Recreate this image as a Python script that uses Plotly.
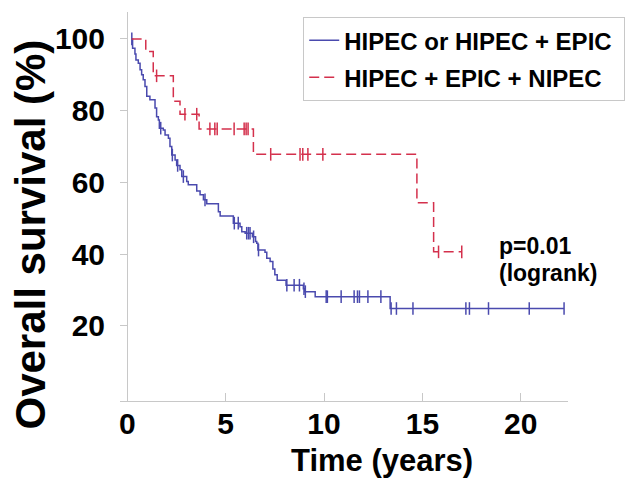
import plotly.graph_objects as go
import bisect

# ---- data ----
blue_name = "HIPEC or HIPEC + EPIC\u00a0"
blue_times = [0.22, 0.27, 0.39, 0.44, 0.56, 0.65, 0.73, 0.81, 0.90, 0.99, 1.15, 1.41, 1.49, 1.58,
              1.63, 1.83, 1.92, 2.09, 2.17, 2.26, 2.43, 2.51, 2.68, 2.77, 3.02, 3.10, 3.53, 3.70,
              3.87, 4.04, 4.63, 4.72, 5.39, 5.73, 5.82, 5.99, 6.36, 6.52, 6.58, 6.64, 7.00, 7.09,
              7.26, 7.40, 7.50, 7.62, 8.07, 8.95, 9.02, 9.55, 13.36]
blue_surv = [100, 97.4, 95.8, 94.1, 93.2, 91.4, 90.0, 88.6, 86.7, 84.0, 83.0, 80.7, 78.3, 77.4,
             75.1, 74.6, 73.2, 72.3, 70.0, 67.6, 66.2, 64.7, 63.5, 61.6, 60.2, 59.3, 57.6, 56.5,
             55.1, 54.0, 51.8, 50.6, 48.6, 47.6, 46.2, 45.8, 44.8, 43.5, 43.0, 41.1, 40.5, 38.8,
             37.9, 35.8, 34.2, 32.7, 31.3, 30.3, 29.5, 28.1, 24.8]
blue_end = 22.2
blue_censor = [0.23, 1.70, 2.29, 2.56, 2.85, 3.95, 5.44, 5.64, 6.07, 6.16, 6.24, 6.42, 6.67,
               8.11, 8.48, 8.75, 8.98, 9.05, 10.11, 10.17, 10.87, 11.53, 11.70, 11.80, 12.23,
               12.89, 13.41, 13.68, 14.52, 17.21, 17.39, 18.36, 20.43, 22.2]

red_name = "HIPEC + EPIC + NIPEC"
red_times = [0.22, 0.94, 1.32, 2.34, 2.68, 3.65, 6.41, 14.72, 15.57]
red_surv = [100, 96.5, 89.7, 82.6, 79.0, 74.9, 67.8, 54.3, 40.6]
red_end = 17.0
red_censor = [1.49, 2.93, 3.53, 4.20, 4.45, 4.57, 5.43, 5.94, 6.04, 6.14, 7.29, 8.78,
              8.92, 9.18, 9.94, 15.82, 17.0]

x_ticks = [0, 5, 10, 15, 20]
y_ticks = [20, 40, 60, 80, 100]
p_text = ["p=0.01", "(logrank)"]

BLUE = "#4a4aae"
RED = "#d4304c"
GRID = "#c8c8c8"
FONT = "Liberation Sans, Arial, sans-serif"


def level_at(times, surv, t):
    i = bisect.bisect_right(times, t) - 1
    return surv[max(i, 0)]


fig = go.Figure()

for name, times, surv, end, cens, col, dash, grp in [
    (blue_name, blue_times, blue_surv, blue_end, blue_censor, BLUE, "solid", "b"),
    (red_name, red_times, red_surv, red_end, red_censor, RED, "10px,5px", "r"),
]:
    fig.add_trace(go.Scatter(
        x=times + [end], y=surv + [surv[-1]], mode="lines", name=name,
        line=dict(color=col, width=1.5, shape="hv", dash=dash),
        legendgroup=grp, showlegend=True))
    fig.add_trace(go.Scatter(
        x=cens, y=[level_at(times, surv, t) for t in cens], mode="markers",
        marker=dict(symbol="line-ns", size=9, line=dict(color=col, width=1.5)),
        legendgroup=grp, showlegend=False))

fig.update_layout(
    width=625, height=473,
    margin=dict(l=112, r=65, t=4, b=80),
    plot_bgcolor="white", paper_bgcolor="white",
    font=dict(family=FONT, color="black"),
    xaxis=dict(range=[-0.37, 22.4], tickvals=x_ticks, ticks="inside", ticklen=8,
               tickcolor=GRID, showline=True, linecolor=GRID, linewidth=1,
               zeroline=True, zerolinecolor=GRID, zerolinewidth=1, showgrid=False,
               tickfont=dict(size=30, weight="bold", family=FONT), ticklabelstandoff=-4),
    yaxis=dict(range=[-1, 107.5], tickvals=y_ticks, ticks="inside", ticklen=8,
               tickcolor=GRID, showline=False, zeroline=False, showgrid=False,
               tickfont=dict(size=30, weight="bold", family=FONT), ticklabelstandoff=14),
    legend=dict(x=0.409, y=0.987, xanchor="left", yanchor="top",
                bordercolor=GRID, borderwidth=1, bgcolor="white",
                font=dict(size=24, weight="bold", family=FONT),
                tracegroupgap=3),
    showlegend=True,
)

fig.add_annotation(text="Time (years)", xref="paper", yref="paper", x=0.584, y=-0.152,
                   xanchor="center", yanchor="middle", showarrow=False,
                   font=dict(size=31, weight="bold", family=FONT))
fig.add_annotation(text="Overall survival (%)", xref="paper", yref="paper", x=-0.2, y=0.429,
                   xanchor="center", yanchor="middle", showarrow=False, textangle=-90,
                   font=dict(size=42, weight="bold", family=FONT))
fig.add_annotation(text=p_text[0], xref="x", yref="y", x=18.8, y=42.1,
                   xanchor="left", yanchor="middle", showarrow=False,
                   font=dict(size=23, weight="bold", family=FONT))
fig.add_annotation(text=p_text[1], xref="x", yref="y", x=18.8, y=34.6,
                   xanchor="left", yanchor="middle", showarrow=False,
                   font=dict(size=23, weight="bold", family=FONT))

fig.write_html("out.html")
